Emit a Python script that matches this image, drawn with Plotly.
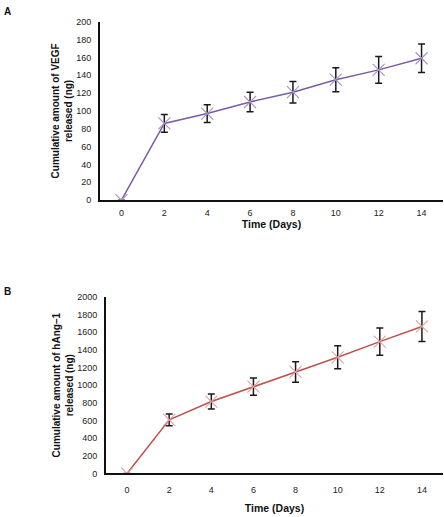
import plotly.graph_objects as go

days = [0, 2, 4, 6, 8, 10, 12, 14]
vegf = [0, 86, 97, 110, 121, 135, 146, 159]
vegf_err = [0, 10, 10, 11, 12, 13.5, 15, 16]
hang = [0, 607, 815, 983, 1150, 1316, 1494, 1666]
hang_err = [0, 67, 85, 98, 117, 131, 154, 170]

x_ticks = [0, 2, 4, 6, 8, 10, 12, 14]
ya_ticks = list(range(0, 201, 20))
yb_ticks = list(range(0, 2001, 200))

W, H = 444, 517
font = "Liberation Sans, Arial, sans-serif"

fig = go.Figure()

fig.add_trace(go.Scatter(
    x=days, y=vegf, mode="lines+markers", xaxis="x", yaxis="y",
    line=dict(color="#7a5ca6", width=1.5),
    marker=dict(symbol="x-thin", size=12, line=dict(color="#a792c9", width=1.1)),
    error_y=dict(type="data", array=vegf_err, visible=True, color="#1a1a1a",
                 thickness=1.5, width=3.5),
    showlegend=False,
))
fig.add_trace(go.Scatter(
    x=days, y=hang, mode="lines+markers", xaxis="x2", yaxis="y2",
    line=dict(color="#c0504d", width=1.5),
    marker=dict(symbol="x-thin", size=12, line=dict(color="#e0a3a2", width=1.1)),
    error_y=dict(type="data", array=hang_err, visible=True, color="#1a1a1a",
                 thickness=1.5, width=3.5),
    showlegend=False,
))

axis_common = dict(showgrid=False, zeroline=False, showline=True, linecolor="#111111",
                   linewidth=2, ticks="", tickfont=dict(family=font, size=9, color="#222"))

fig.update_layout(
    width=W, height=H,
    margin=dict(l=0, r=0, t=0, b=0),
    paper_bgcolor="white", plot_bgcolor="white",
    font=dict(family=font, color="#111"),
    xaxis=dict(domain=[100 / W, 443 / W], range=[-1, 15], tickvals=x_ticks,
               anchor="y", ticklabelstandoff=3, **axis_common,
               title=dict(text="<b>Time (Days)</b>", font=dict(size=10.5, family=font), standoff=0)),
    yaxis=dict(domain=[1 - 199 / H, 1 - 17 / H], range=[0, 200], tickvals=ya_ticks,
               anchor="x", ticklabelstandoff=5, **axis_common,
               title=dict(text="<b>Cumulative amount of VEGF<br>released (ng)</b>",
                          font=dict(size=10, family=font), standoff=2)),
    xaxis2=dict(domain=[106 / W, 443 / W], range=[-1, 15], tickvals=x_ticks,
                anchor="y2", ticklabelstandoff=7, **axis_common,
                title=dict(text="<b>Time (Days)</b>", font=dict(size=10.5, family=font), standoff=10)),
    yaxis2=dict(domain=[1 - 477.7 / H, 1 - 297.7 / H], range=[0, 2000], tickvals=yb_ticks,
                anchor="x2", ticklabelstandoff=5, **axis_common,
                title=dict(text="<b>Cumulative amount of hAng\u20131<br>released (ng)</b>",
                           font=dict(size=10, family=font), standoff=2)),
    annotations=[
        dict(text="<b>A</b>", x=2 / W, y=1 - 7 / H, xref="paper", yref="paper",
             xanchor="left", yanchor="middle", showarrow=False, font=dict(size=10, family=font)),
        dict(text="<b>B</b>", x=2 / W, y=1 - 292 / H, xref="paper", yref="paper",
             xanchor="left", yanchor="middle", showarrow=False, font=dict(size=10, family=font)),
    ],
)

fig.write_html("out.html", config={"displayModeBar": False},
               post_script="document.body.style.margin='0';")
